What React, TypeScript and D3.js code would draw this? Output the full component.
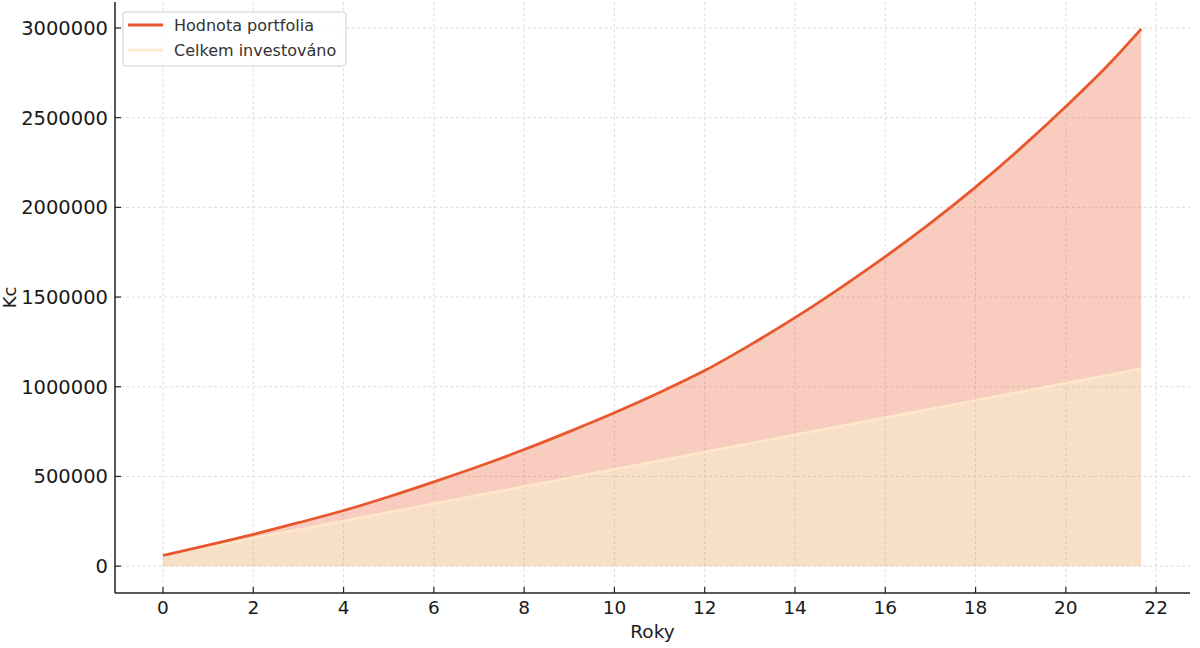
import React from 'react';
import * as d3 from 'd3';

// years since start (last point = 260 months)
const years = [0, 1, 2, 3, 4, 5, 6, 7, 8, 9, 10, 11, 12, 13, 14, 15, 16, 17, 18, 19, 20, 21, 21.67];
// portfolio value in Kc
const portfolio = [
  60000, 117000, 177000, 242000, 310000, 387000, 470000, 557000, 650000, 750000, 855000,
  968000, 1090000, 1232000, 1385000, 1550000, 1725000, 1912000, 2113000, 2330000, 2562000,
  2810000, 2995000,
];
// total invested in Kc
const invested = [
  60000, 108000, 156000, 204000, 252000, 300000, 348000, 396000, 444000, 492000, 540000,
  588000, 636000, 684000, 732000, 780000, 828000, 876000, 924000, 972000, 1020000,
  1068000, 1100000,
];
const xTicks = [0, 2, 4, 6, 8, 10, 12, 14, 16, 18, 20, 22];
const yTicks = [0, 500000, 1000000, 1500000, 2000000, 2500000, 3000000];
const seriesNames = ['Hodnota portfolia', 'Celkem investováno'];

const W = 1200;
const H = 648;
const left = 115, right = 1190, top = 2, bottom = 593;
const font = '"DejaVu Sans", sans-serif';
const lineColor = '#e8582c';
const investColor = '#fde8c8';

const App: React.FC = () => {
  const x = d3.scaleLinear().domain([-1.063, 22.75]).range([left, right]);
  const y = d3.scaleLinear().domain([-149750, 3144750]).range([bottom, top]);

  const pts = years.map((t, i) => ({ t, p: portfolio[i], v: invested[i] }));

  const linePortfolio = d3.line<typeof pts[0]>()
    .x(d => x(d.t)).y(d => y(d.p)).curve(d3.curveMonotoneX);
  const lineInvested = d3.line<typeof pts[0]>()
    .x(d => x(d.t)).y(d => y(d.v));
  const areaGain = d3.area<typeof pts[0]>()
    .x(d => x(d.t)).y0(d => y(d.v)).y1(d => y(d.p)).curve(d3.curveMonotoneX);
  const areaInvested = d3.area<typeof pts[0]>()
    .x(d => x(d.t)).y0(y(0)).y1(d => y(d.v));

  return (
    <svg width={W} height={H} style={{ position: 'absolute', left: 0, top: 0, background: '#fff' }}
      fontFamily={font}>
      {/* grid */}
      <g stroke="#d4d4d4" strokeWidth={0.8} strokeDasharray="3,2.5">
        {xTicks.map(t => (
          <line key={'gx' + t} x1={x(t)} x2={x(t)} y1={top} y2={bottom} />
        ))}
        {yTicks.map(t => (
          <line key={'gy' + t} x1={left} x2={right} y1={y(t)} y2={y(t)} />
        ))}
      </g>

      {/* fills */}
      <path d={areaInvested(pts) as string} fill="#e8944a" fillOpacity={0.3} />
      <path d={areaGain(pts) as string} fill={lineColor} fillOpacity={0.3} />

      {/* lines */}
      <path d={lineInvested(pts) as string} fill="none" stroke={investColor} strokeWidth={2.5} />
      <path d={linePortfolio(pts) as string} fill="none" stroke={lineColor} strokeWidth={2.8} />

      {/* spines */}
      <line x1={left} x2={left} y1={top} y2={bottom} stroke="#222" strokeWidth={1.5} />
      <line x1={left} x2={right} y1={bottom} y2={bottom} stroke="#222" strokeWidth={1.5} />

      {/* x ticks */}
      {xTicks.map(t => (
        <g key={'xt' + t}>
          <line x1={x(t)} x2={x(t)} y1={bottom} y2={bottom - 6} stroke="#222" strokeWidth={1.2} />
          <text x={x(t)} y={614} textAnchor="middle" fontSize={18.5} fill="#1a1a1a">{t}</text>
        </g>
      ))}
      {/* y ticks */}
      {yTicks.map(t => (
        <g key={'yt' + t}>
          <line x1={left} x2={left + 6} y1={y(t)} y2={y(t)} stroke="#222" strokeWidth={1.2} />
          <text x={108} y={y(t)} dy="0.36em" textAnchor="end" fontSize={19.5} fill="#1a1a1a">{t}</text>
        </g>
      ))}

      {/* axis labels */}
      <text x={(left + right) / 2} y={638} textAnchor="middle" fontSize={18.5} fill="#1a1a1a">Roky</text>
      <text transform={`translate(16,${(top + bottom) / 2}) rotate(-90)`} textAnchor="middle"
        fontSize={18} fill="#1a1a1a">Kc</text>

      {/* legend */}
      <g>
        <rect x={123} y={12} width={223} height={54} rx={3} fill="#fff" fillOpacity={0.85}
          stroke="#d0d0d0" strokeWidth={1} />
        <line x1={128} x2={163} y1={25} y2={25} stroke={lineColor} strokeWidth={2.8} />
        <text x={174} y={30.5} fontSize={16} fill="#333">{seriesNames[0]}</text>
        <line x1={128} x2={163} y1={50} y2={50} stroke={investColor} strokeWidth={2.5} />
        <text x={174} y={55.5} fontSize={16} fill="#333">{seriesNames[1]}</text>
      </g>
    </svg>
  );
};

export default App;
